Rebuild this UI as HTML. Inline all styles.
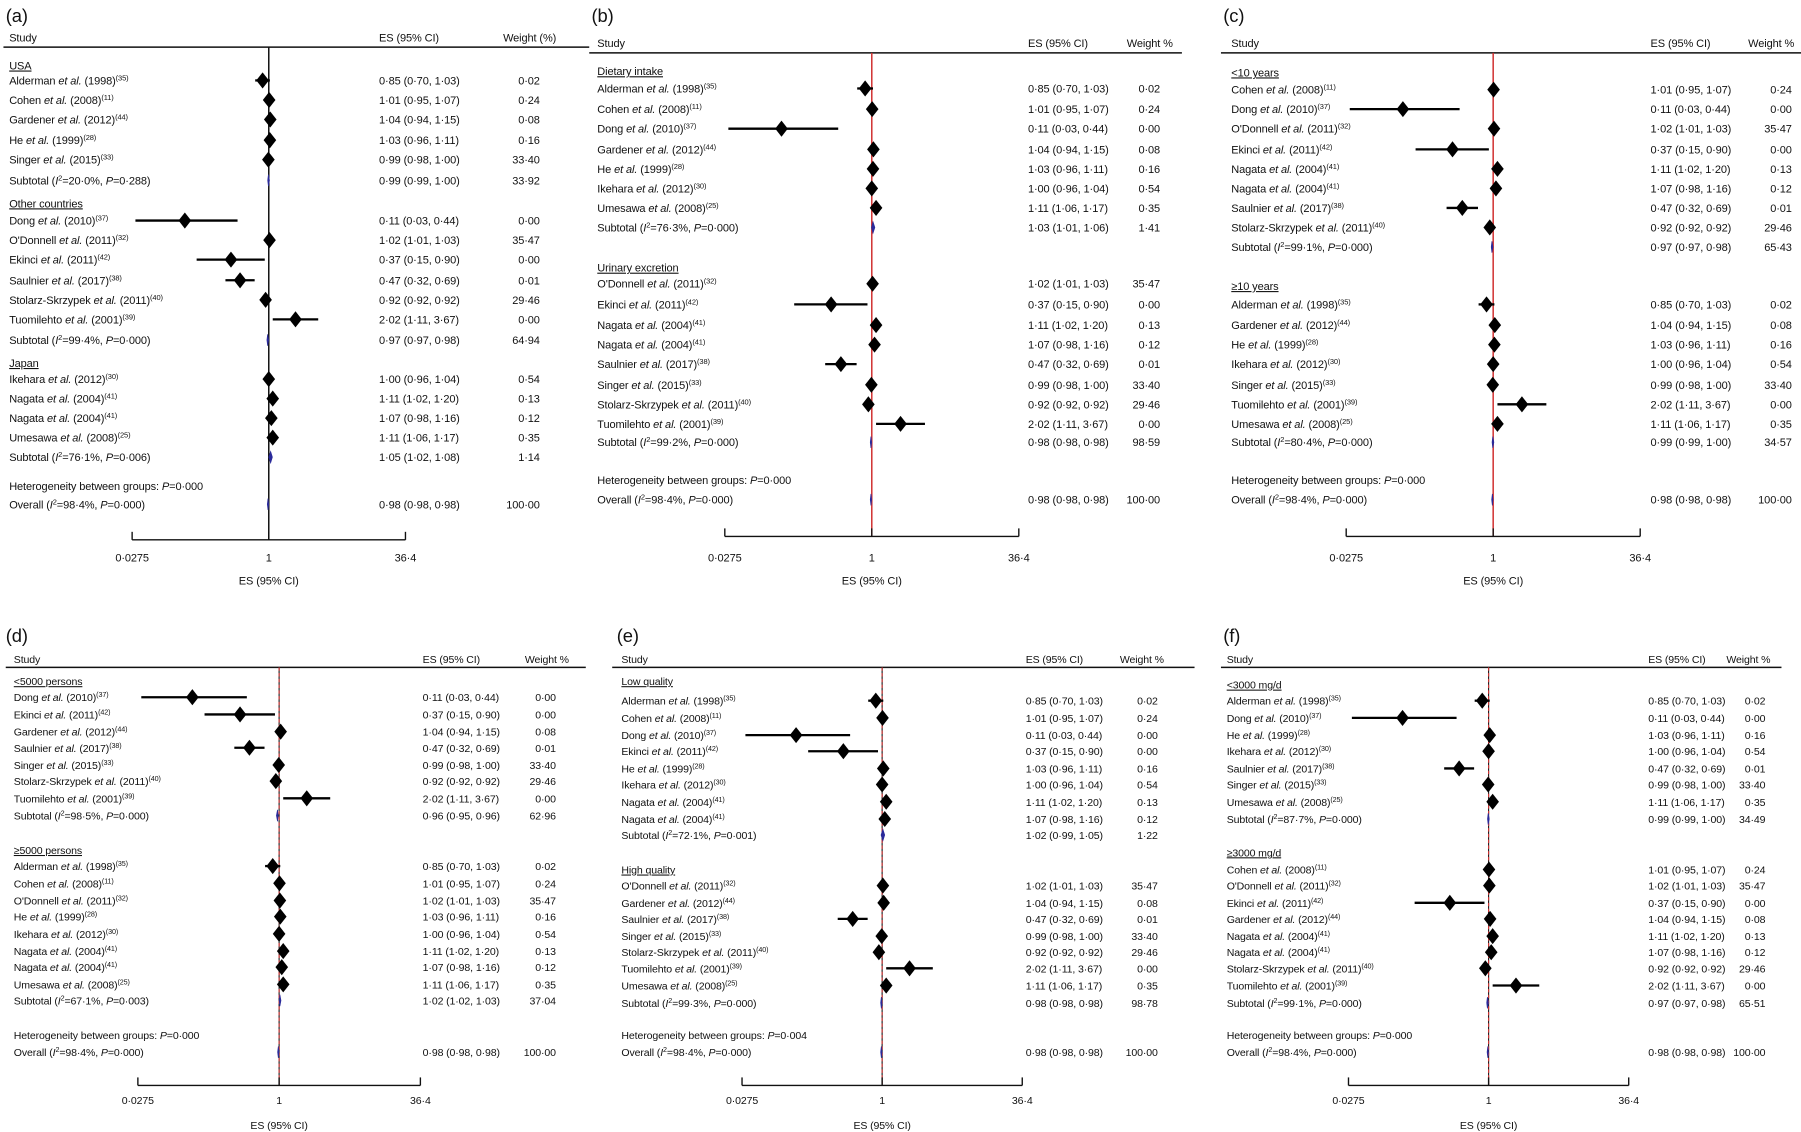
<!DOCTYPE html>
<html><head><meta charset="utf-8"><style>
html,body{margin:0;padding:0;background:#fff;}
svg{display:block;font-family:"Liberation Sans",Arial,sans-serif;}
text{letter-spacing:-0.1px;}
</style></head><body>
<svg id="fig" width="1801" height="1132" viewBox="0 0 1568 985.5" xmlns="http://www.w3.org/2000/svg"></svg>
<script>
// ---- study data ----
const studyKeys   = ['ald','coh','gar','he','sin','dong','odon','ekin','saul','stol','tuom','ike','nag1','nag2','ume'];
const studyAuthor = ['Alderman','Cohen','Gardener','He','Singer','Dong',"O'Donnell",'Ekinci','Saulnier','Stolarz-Skrzypek','Tuomilehto','Ikehara','Nagata','Nagata','Umesawa'];
const studyYear   = ['1998','2008','2012','1999','2015','2010','2011','2011','2017','2011','2001','2012','2004','2004','2008'];
const studyRef    = ['35','11','44','28','33','37','32','42','38','40','39','30','41','41','25'];
const studyES     = [0.85,1.01,1.04,1.03,0.99,0.11,1.02,0.37,0.47,0.92,2.02,1.00,1.11,1.07,1.11];
const studyLo     = [0.70,0.95,0.94,0.96,0.98,0.03,1.01,0.15,0.32,0.92,1.11,0.96,1.02,0.98,1.06];
const studyHi     = [1.03,1.07,1.15,1.11,1.00,0.44,1.03,0.90,0.69,0.92,3.67,1.04,1.20,1.16,1.17];
const studyWeight = [0.02,0.24,0.08,0.16,33.40,0.00,35.47,0.00,0.01,29.46,0.00,0.54,0.13,0.12,0.35];
// ---- subtotal data per panel ----
const subI2  = {a:['20·0','99·4','76·1'], b:['76·3','99·2'], c:['99·1','80·4'], d:['98·5','67·1'], e:['72·1','99·3'], f:['87·7','99·1']};
const subP   = {a:['0·288','0·000','0·006'], b:['0·000','0·000'], c:['0·000','0·000'], d:['0·000','0·003'], e:['0·001','0·000'], f:['0·000','0·000']};
const subES  = {a:[0.99,0.97,1.05], b:[1.03,0.98], c:[0.97,0.99], d:[0.96,1.02], e:[1.02,0.98], f:[0.99,0.97]};
const subLo  = {a:[0.99,0.97,1.02], b:[1.01,0.98], c:[0.97,0.99], d:[0.95,1.02], e:[0.99,0.98], f:[0.99,0.97]};
const subHi  = {a:[1.00,0.98,1.08], b:[1.06,0.98], c:[0.98,1.00], d:[0.96,1.03], e:[1.05,0.98], f:[1.00,0.98]};
const subW   = {a:[33.92,64.94,1.14], b:[1.41,98.59], c:[65.43,34.57], d:[62.96,37.04], e:[1.22,98.78], f:[34.49,65.51]};
const hetP   = {a:'0·000', b:'0·000', c:'0·000', d:'0·000', e:'0·004', f:'0·000'};
const overallES = [0.98,0.98,0.98];
const overallW  = 100.00;
const tickValues = [0.0275, 1, 36.4];
const tickLabels = ['0·0275','1','36·4'];
const axisMin = 0.0275, axisMax = 36.4;

const panels = [
 {id:'a',L:3,R:513,lab:[5,19],hy:32,line:41,sx:8,ex:330,wr:470,wh:'Weight (%)',whx:438,cx:234,half:119,ay:470,ly:489,ty:509,fs:9.6,vl:'black',
  rows:[['h','USA',57],['s','ald',70],['s','coh',87],['s','gar',104],['s','he',122],['s','sin',139],['t',0,157],
        ['h','Other countries',177],['s','dong',192],['s','odon',209],['s','ekin',226],['s','saul',244],['s','stol',261],['s','tuom',278],['t',1,296],
        ['h','Japan',316],['s','ike',330],['s','nag1',347],['s','nag2',364],['s','ume',381],['t',2,398],['het',0,423],['o',0,439]]},
 {id:'b',L:513,R:1029,lab:[515,19],hy:37,line:46,sx:520,ex:895,wr:1010,wh:'Weight %',whx:981,cx:759,half:128,ay:467,ly:489,ty:509,fs:9.6,vl:'red',
  rows:[['h','Dietary intake',62],['s','ald',77],['s','coh',95],['s','dong',112],['s','gar',130],['s','he',147],['s','ike',164],['s','ume',181],['t',0,198],
        ['h','Urinary excretion',233],['s','odon',247],['s','ekin',265],['s','nag1',283],['s','nag2',300],['s','saul',317],['s','sin',335],['s','stol',352],['s','tuom',369],['t',1,385],['het',0,418],['o',0,435]]},
 {id:'c',L:1063,R:1568,lab:[1065,19],hy:37,line:46,sx:1072,ex:1437,wr:1560,wh:'Weight %',whx:1522,cx:1300,half:128,ay:467,ly:489,ty:509,fs:9.6,vl:'red',
  rows:[['h','<10 years',63],['s','coh',78],['s','dong',95],['s','odon',112],['s','ekin',130],['s','nag1',147],['s','nag2',164],['s','saul',181],['s','stol',198],['t',0,215],
        ['h','\u226510 years',249],['s','ald',265],['s','gar',283],['s','he',300],['s','ike',317],['s','sin',335],['s','tuom',352],['s','ume',369],['t',1,385],['het',0,418],['o',0,435]]},
 {id:'d',L:5,R:510,lab:[5,559],hy:573,line:581,sx:12,ex:368,wr:484,wh:'Weight %',whx:457,cx:243,half:123,ay:945,ly:961,ty:983,fs:9.2,vl:'dash',
  rows:[['h','<5000 persons',593],['s','dong',607],['s','ekin',622],['s','gar',637],['s','saul',651],['s','sin',666],['s','stol',680],['s','tuom',695],['t',0,710],
        ['h','\u22655000 persons',740],['s','ald',754],['s','coh',769],['s','odon',784],['s','he',798],['s','ike',813],['s','nag1',828],['s','nag2',842],['s','ume',857],['t',1,871],['het',0,901],['o',0,916]]},
 {id:'e',L:533,R:1040,lab:[537,559],hy:573,line:581,sx:541,ex:893,wr:1008,wh:'Weight %',whx:975,cx:768,half:122,ay:945,ly:961,ty:983,fs:9.2,vl:'dash',
  rows:[['h','Low quality',593],['s','ald',610],['s','coh',625],['s','dong',640],['s','ekin',654],['s','he',669],['s','ike',683],['s','nag1',698],['s','nag2',713],['t',0,727],
        ['h','High quality',757],['s','odon',771],['s','gar',786],['s','saul',800],['s','sin',815],['s','stol',829],['s','tuom',843],['s','ume',858],['t',1,873],['het',0,901],['o',0,916]]},
 {id:'f',L:1063,R:1551,lab:[1065,559],hy:573,line:581,sx:1068,ex:1435,wr:1537,wh:'Weight %',whx:1503,cx:1296,half:122,ay:945,ly:961,ty:983,fs:9.2,vl:'dash',
  rows:[['h','<3000 mg/d',596],['s','ald',610],['s','dong',625],['s','he',640],['s','ike',654],['s','saul',669],['s','sin',683],['s','ume',698],['t',0,713],
        ['h','\u22653000 mg/d',742],['s','coh',757],['s','odon',771],['s','ekin',786],['s','gar',800],['s','nag1',815],['s','nag2',829],['s','stol',843],['s','tuom',858],['t',1,873],['het',0,901],['o',0,916]]}
];

const NS='http://www.w3.org/2000/svg';
const svg=document.getElementById('fig');
function mk(tag,attrs,parent){const e=document.createElementNS(NS,tag);for(const k in attrs)e.setAttribute(k,attrs[k]);(parent||svg).appendChild(e);return e;}
function fmt(v){return v.toFixed(2).replace('.','·');}
function xScale(p,v){return p.cx+Math.log(v)/Math.log(axisMax)*p.half;}
function tspan(t,txt,attrs){const s=mk('tspan',attrs||{},t);s.textContent=txt;return s;}

panels.forEach(p=>{
  const g=mk('g',{});
  
  
  const lab=mk('text',{x:p.lab[0],y:p.lab[1],'font-size':16,fill:'#111'},g);
  lab.textContent='('+p.id+')';
  
  
  const fs=p.fs;
  const hs=mk('text',{x:p.sx,y:p.hy+4,'font-size':fs,fill:'#111'},g);hs.textContent='Study';
  
  
  const he=mk('text',{x:p.ex,y:p.hy+4,'font-size':fs,fill:'#111'},g);he.textContent='ES (95% CI)';
  
  
  const hw=mk('text',{x:p.whx,y:p.hy+4,'font-size':fs,fill:'#111'},g);hw.textContent=p.wh;
  
  
  const hl=mk('line',{x1:p.L,x2:p.R,y1:p.line,y2:p.line,stroke:'#111','stroke-width':1.3},g);
  
  
  const x1=xScale(p,1);
  if(p.vl==='dash'){
    mk('line',{x1:x1,x2:x1,y1:p.line,y2:p.ay,stroke:'#222','stroke-width':1},g);
    const d=mk('line',{x1:x1,x2:x1,y1:p.line,y2:p.ay,stroke:'#c33','stroke-width':1,'stroke-dasharray':'3,2'},g);
    
    
  } else {
    const v=mk('line',{x1:x1,x2:x1,y1:p.line,y2:p.ay,stroke:p.vl==='red'?'#d03030':'#111','stroke-width':1.3},g);
    
    
  }
  const ax=mk('line',{x1:xScale(p,axisMin),x2:xScale(p,axisMax),y1:p.ay,y2:p.ay,stroke:'#111','stroke-width':1.2},g);
  
  
  tickValues.forEach((tv,i)=>{
    const tx=xScale(p,tv);
    const tk=mk('line',{x1:tx,x2:tx,y1:p.ay-7,y2:p.ay,stroke:'#111','stroke-width':1.2},g);
    
    
    const tl=mk('text',{x:tx,y:p.ly,'font-size':fs,'text-anchor':'middle',fill:'#111'},g);
    tl.textContent=tickLabels[i];
    
    
  });
  const at=mk('text',{x:x1,y:p.ty,'font-size':fs,'text-anchor':'middle',fill:'#111'},g);
  at.textContent='ES (95% CI)';
  
  

  p.rows.forEach(r=>{
    const [type,val,y]=r;const by=y+3.5;
    if(type==='h'){
      const t=mk('text',{x:p.sx,y:by,'font-size':fs,fill:'#111','text-decoration':'underline'},g);
      t.textContent=val;
      
      
    } else if(type==='s'){
      const i=studyKeys.indexOf(val);
      const t=mk('text',{x:p.sx,y:by,'font-size':fs,fill:'#111'},g);
      
      
      tspan(t,studyAuthor[i]+' ');tspan(t,'et al.',{'font-style':'italic'});tspan(t,' ('+studyYear[i]+')');
      tspan(t,'('+studyRef[i]+')',{'font-size':fs*0.68,'baseline-shift':'super'});
      const e=mk('text',{x:p.ex,y:by,'font-size':fs,fill:'#111'},g);
      e.textContent=fmt(studyES[i])+' ('+fmt(studyLo[i])+', '+fmt(studyHi[i])+')';
      
      
      const w=mk('text',{x:p.wr,y:by,'font-size':fs,'text-anchor':'end',fill:'#111'},g);
      w.textContent=fmt(studyWeight[i]);
      
      
      const xl=xScale(p,studyLo[i]),xh=xScale(p,studyHi[i]),xe=xScale(p,studyES[i]);
      if(xh-xl>1){
        const ci=mk('line',{x1:xl,x2:xh,y1:y,y2:y,stroke:'#000','stroke-width':2},g);
        
        
      }
      const hw2=5.5,hh=7;
      const dm=mk('polygon',{points:`${xe-hw2},${y} ${xe},${y-hh} ${xe+hw2},${y} ${xe},${y+hh}`,fill:'#000'},g);
      
      
    } else if(type==='t' || type==='o'){
      const es = type==='t'?subES[p.id][val]:overallES[0];
      const lo = type==='t'?subLo[p.id][val]:overallES[1];
      const hi = type==='t'?subHi[p.id][val]:overallES[2];
      const wv = type==='t'?subW[p.id][val]:overallW;
      const t=mk('text',{x:p.sx,y:by,'font-size':fs,fill:'#111'},g);
      
      
      tspan(t,(type==='t'?'Subtotal':'Overall')+' (');tspan(t,'I',{'font-style':'italic'});
      tspan(t,'2',{'font-size':fs*0.68,'baseline-shift':'super'});
      tspan(t,'='+(type==='t'?subI2[p.id][val]:'98·4')+'%, ');tspan(t,'P',{'font-style':'italic'});
      tspan(t,'='+(type==='t'?subP[p.id][val]:'0·000')+')');
      const e=mk('text',{x:p.ex,y:by,'font-size':fs,fill:'#111'},g);
      e.textContent=fmt(es)+' ('+fmt(lo)+', '+fmt(hi)+')';
      
      
      const w=mk('text',{x:p.wr,y:by,'font-size':fs,'text-anchor':'end',fill:'#111'},g);
      w.textContent=fmt(wv);
      
      
      const xl=xScale(p,lo),xh=xScale(p,hi),xe=xScale(p,es);
      const dm=mk('polygon',{points:`${xl-0.6},${y} ${xe},${y-5} ${xh+0.6},${y} ${xe},${y+5}`,fill:'#2a2a9a',stroke:'#2a2a9a','stroke-width':0.6},g);
      
      
    } else if(type==='het'){
      const t=mk('text',{x:p.sx,y:by,'font-size':fs,fill:'#111'},g);
      
      
      tspan(t,'Heterogeneity between groups: ');tspan(t,'P',{'font-style':'italic'});tspan(t,'='+hetP[p.id]);
    }
  });
});
</script>
</body></html>
